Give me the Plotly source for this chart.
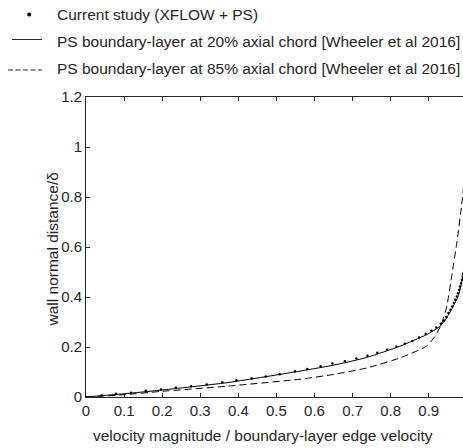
import plotly.graph_objects as go

# Current study (XFLOW + PS): boundary-layer profile samples
u_current = [0.0, 0.041, 0.079, 0.118, 0.157, 0.197, 0.236, 0.276, 0.317, 0.358, 0.395,
             0.435, 0.472, 0.509, 0.549, 0.581, 0.616, 0.647, 0.680, 0.710, 0.739,
             0.765, 0.791, 0.815, 0.837, 0.857, 0.875, 0.892, 0.907, 0.920, 0.932,
             0.940, 0.946, 0.952, 0.957, 0.962, 0.966, 0.970, 0.974, 0.977, 0.980,
             0.982, 0.985, 0.987, 0.989, 0.991]
y_current = [0.0, 0.006, 0.013, 0.017, 0.025, 0.030, 0.037, 0.043, 0.050, 0.059, 0.067,
             0.074, 0.082, 0.091, 0.103, 0.112, 0.123, 0.134, 0.143, 0.154, 0.165,
             0.177, 0.189, 0.201, 0.213, 0.224, 0.238, 0.252, 0.265, 0.278, 0.293,
             0.306, 0.320, 0.336, 0.349, 0.362, 0.376, 0.389, 0.402, 0.415, 0.429,
             0.442, 0.455, 0.468, 0.481, 0.494]

# Wheeler et al 2016, PS boundary layer at 20% axial chord
u_20 = [0.0, 0.1, 0.194, 0.369, 0.544, 0.649, 0.737, 0.824, 0.894, 0.929, 0.947,
        0.964, 0.977, 0.986, 0.99, 0.995, 1.0]
y_20 = [0.0, 0.013, 0.027, 0.057, 0.099, 0.127, 0.158, 0.203, 0.249, 0.282, 0.316,
        0.362, 0.402, 0.455, 0.488, 0.56, 0.65]

# Wheeler et al 2016, PS boundary layer at 85% axial chord
u_85 = [0.0, 0.1, 0.194, 0.369, 0.562, 0.649, 0.737, 0.824, 0.894, 0.915, 0.932,
        0.947, 0.960, 0.974, 0.988, 0.995, 1.0]
y_85 = [0.0, 0.009, 0.022, 0.043, 0.071, 0.090, 0.116, 0.156, 0.203, 0.240, 0.286,
        0.360, 0.480, 0.620, 0.788, 0.9, 1.0]

legend_labels = [
    "Current study (XFLOW + PS)",
    "PS boundary-layer at 20% axial chord [Wheeler et al 2016]",
    "PS boundary-layer at 85% axial chord [Wheeler et al 2016]",
]
x_title = "velocity magnitude / boundary-layer edge velocity"
y_title = "wall normal distance/δ"

FONT = "Liberation Sans, Arial, sans-serif"
INK = "#262626"
TXT = 15.5

W, H = 463, 448
L, R, T, B = 86, 0, 97, 51
PW, PH = W - L - R, H - T - B


def px_x(px):
    return (px - L) / PW


def px_y(py):
    return (H - B - py) / PH


fig = go.Figure()
fig.add_trace(go.Scatter(x=u_20, y=y_20, mode="lines",
                         line=dict(color="black", width=1, shape="spline", smoothing=0.5)))
fig.add_trace(go.Scatter(x=u_85, y=y_85, mode="lines",
                         line=dict(color="black", width=1, dash="7px,4px",
                                   shape="spline", smoothing=0.5)))
fig.add_trace(go.Scatter(x=u_current, y=y_current, mode="markers",
                         marker=dict(color="black", size=2.5)))

# Legend drawn in the top margin
shapes = [
    dict(type="circle", xref="paper", yref="paper",
         x0=px_x(27.2), x1=px_x(31.2), y0=px_y(16.5), y1=px_y(12.5),
         fillcolor="black", line=dict(width=0)),
    dict(type="line", xref="paper", yref="paper",
         x0=px_x(12), x1=px_x(42), y0=px_y(39.5), y1=px_y(39.5),
         line=dict(color=INK, width=1)),
    dict(type="line", xref="paper", yref="paper",
         x0=px_x(8), x1=px_x(42), y0=px_y(70), y1=px_y(70),
         line=dict(color=INK, width=1, dash="5px,2.5px")),
]
annotations = []
for i, lab in enumerate(legend_labels):
    annotations.append(dict(text=lab, x=px_x(55), y=px_y(15 + 26.5 * i),
                            xref="paper", yref="paper", xanchor="left", yanchor="middle",
                            showarrow=False, font=dict(family=FONT, size=TXT, color=INK)))
annotations.append(dict(text=x_title, x=px_x(263), y=px_y(435), xref="paper", yref="paper",
                        xanchor="center", yanchor="middle", showarrow=False,
                        font=dict(family=FONT, size=TXT, color=INK)))
annotations.append(dict(text=y_title, x=px_x(51.5), y=px_y(250), xref="paper", yref="paper",
                        xanchor="center", yanchor="middle", textangle=-90, showarrow=False,
                        font=dict(family=FONT, size=TXT, color=INK)))

fig.update_layout(
    width=W, height=H,
    margin=dict(l=L, r=R, t=T, b=B, pad=0),
    paper_bgcolor="white", plot_bgcolor="white",
    showlegend=False,
    shapes=shapes,
    annotations=annotations,
    font=dict(family=FONT, size=15, color=INK),
    xaxis=dict(range=[0, 0.99], tickvals=[0, 0.1, 0.2, 0.3, 0.4, 0.5, 0.6, 0.7, 0.8, 0.9],
               ticks="inside", ticklen=4, tickcolor=INK, showline=True, linecolor=INK,
               linewidth=1, mirror="ticks", showgrid=False, zeroline=False,
               tickfont=dict(family=FONT, size=15, color=INK)),
    yaxis=dict(range=[0, 1.2], tickvals=[0, 0.2, 0.4, 0.6, 0.8, 1.0, 1.2],
               ticks="inside", ticklen=4, tickcolor=INK, showline=True, linecolor=INK,
               linewidth=1, mirror=False, showgrid=False, zeroline=False,
               tickfont=dict(family=FONT, size=15, color=INK)),
)

fig.write_html("out.html")
